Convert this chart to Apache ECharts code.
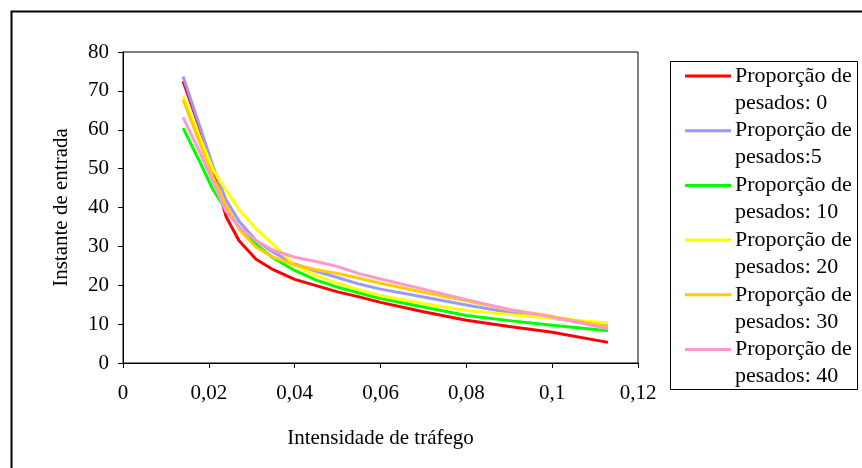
<!DOCTYPE html>
<html lang="pt">
<head>
    <meta charset="UTF-8">
    <title>Instante de entrada</title>
    <script src="https://cdn.jsdelivr.net/npm/echarts@6/dist/echarts.min.js"></script>
    <style>
        html, body { margin: 0; padding: 0; background: #fff; }
    </style>
</head>
<body>
<div id="main" style="width: 862px; height: 468px;"></div>
<script>
    // intensidade de tráfego (eixo x)
    var intensidade = [0.014, 0.018, 0.021, 0.024, 0.027, 0.031, 0.035, 0.040, 0.045, 0.050, 0.055, 0.060, 0.070, 0.080, 0.090, 0.100, 0.113];

    // instante de entrada por proporção de pesados
    var pesados0  = [72.5, 60.0, 49.7, 37.7, 31.5, 26.7, 24.0, 21.5, 19.9, 18.3, 17.0, 15.6, 13.2, 11.0, 9.4, 7.9, 5.3];
    var pesados5  = [73.7, 60.5, 50.5, 42.0, 36.5, 31.5, 28.5, 25.5, 23.6, 22.0, 20.3, 19.0, 17.0, 14.9, 13.0, 11.5, 9.7];
    var pesados10 = [60.4, 51.5, 44.5, 39.5, 35.0, 30.5, 27.0, 23.8, 21.3, 19.5, 18.0, 16.6, 14.4, 12.2, 10.9, 9.7, 8.3];
    var pesados20 = [68.6, 57.8, 49.6, 44.5, 39.5, 34.5, 30.5, 25.2, 22.5, 20.5, 18.8, 17.3, 15.3, 13.5, 12.5, 11.5, 10.3];
    var pesados30 = [67.7, 56.3, 47.8, 40.5, 34.5, 29.8, 27.2, 25.2, 24.0, 23.0, 21.8, 20.5, 18.2, 16.0, 13.7, 12.0, 9.3];
    var pesados40 = [63.2, 54.0, 46.5, 39.0, 35.1, 31.5, 29.0, 27.2, 26.1, 24.8, 23.0, 21.6, 19.0, 16.3, 13.8, 11.8, 8.8];

    var nomes = ['Proporção de\npesados: 0', 'Proporção de\npesados:5', 'Proporção de\npesados: 10',
                 'Proporção de\npesados: 20', 'Proporção de\npesados: 30', 'Proporção de\npesados: 40'];
    var cores = ['#ff0000', '#9999ff', '#00ff00', '#ffff00', '#ffcc00', '#ff99cc'];
    var valores = [pesados0, pesados5, pesados10, pesados20, pesados30, pesados40];

    var fonte = '"Liberation Serif", "Times New Roman", serif';

    var myChart = echarts.init(document.getElementById('main'));

    var series = [];
    for (var i = 0; i < nomes.length; i++) {
        var pontos = [];
        for (var j = 0; j < intensidade.length; j++) {
            pontos.push([intensidade[j], valores[i][j]]);
        }
        series.push({
            name: nomes[i],
            type: 'line',
            data: pontos,
            symbol: 'none',
            color: cores[i],
            lineStyle: { width: 3, color: cores[i] }
        });
    }

    // legenda desenhada à mão (linha alinhada com a primeira linha do texto)
    var graficos = [
        { type: 'rect', left: 9, top: 9, shape: { width: 880, height: 480 },
          style: { fill: 'none', stroke: '#000', lineWidth: 2 }, silent: true },
        { type: 'rect', shape: { x: 670.5, y: 61.5, width: 187, height: 328 },
          style: { fill: '#fff', stroke: '#000', lineWidth: 1 }, silent: true }
    ];
    for (var k = 0; k < nomes.length; k++) {
        var yl = 76 + k * 54.7;
        graficos.push({
            type: 'line',
            shape: { x1: 685, y1: yl, x2: 731, y2: yl },
            style: { stroke: cores[k], lineWidth: 3 },
            silent: true
        });
        graficos.push({
            type: 'text',
            x: 735, y: yl - 13.5,
            style: {
                text: nomes[k], fill: '#000',
                font: '22px ' + fonte, lineHeight: 27,
                verticalAlign: 'top', align: 'left'
            },
            silent: true
        });
    }

    var option = {
        animation: false,
        backgroundColor: '#fff',
        grid: {
            left: 123, right: 224, top: 52, bottom: 105,
            show: true, borderColor: '#000', borderWidth: 1,
            outerBoundsMode: 'none'
        },
        xAxis: {
            type: 'value',
            min: 0, max: 0.12, interval: 0.02,
            name: 'Intensidade de tráfego',
            nameLocation: 'middle',
            nameGap: 65,
            nameTextStyle: { fontFamily: fonte, fontSize: 21, color: '#000' },
            axisLine: { lineStyle: { color: '#000', width: 1 } },
            axisTick: { show: true, length: 5, lineStyle: { color: '#000' } },
            axisLabel: {
                margin: 20, fontFamily: fonte, fontSize: 21, color: '#000',
                formatter: function (v) { return String(v).replace('.', ','); }
            },
            splitLine: { show: false }
        },
        yAxis: {
            type: 'value',
            min: 0, max: 80, interval: 10,
            name: 'Instante de entrada',
            nameLocation: 'middle',
            nameGap: 51,
            nameTextStyle: { fontFamily: fonte, fontSize: 21, color: '#000' },
            axisLine: { show: true, lineStyle: { color: '#000', width: 1 } },
            axisTick: { show: true, length: 5, lineStyle: { color: '#000' } },
            axisLabel: { margin: 14, fontFamily: fonte, fontSize: 21, color: '#000' },
            splitLine: { show: false }
        },
        graphic: graficos,
        series: series
    };
    myChart.setOption(option);
</script>
</body>
</html>
